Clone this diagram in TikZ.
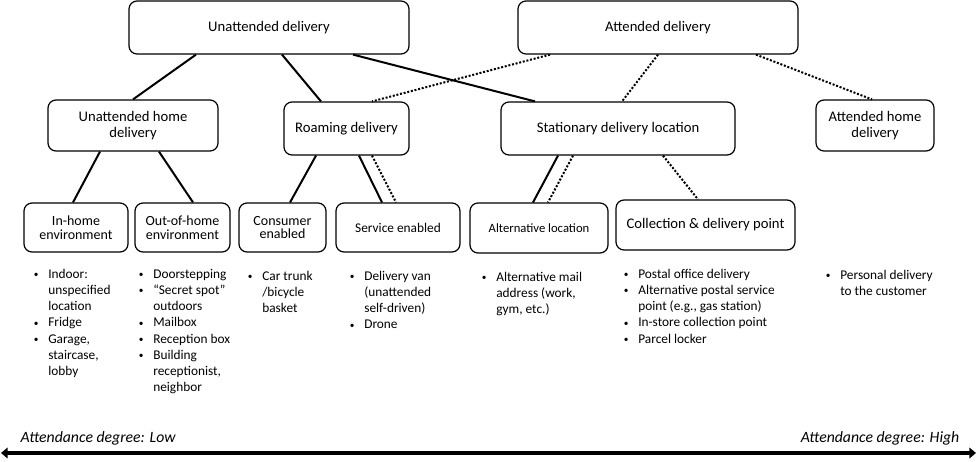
\documentclass[tikz,border=0pt]{standalone}
\usepackage{fontspec}
\setmainfont{Carlito}
\usetikzlibrary{calc,arrows.meta}

\begin{document}
\begin{tikzpicture}[x=0.75pt, y=-0.75pt, line join=round,
  box/.style={draw, line width=0.9pt, rounded corners=6pt, align=center, inner sep=2pt,
    font=\fontsize{11}{11.5}\selectfont},
  smallbox/.style={box, font=\fontsize{10.5}{10.2}\selectfont},
  solidlink/.style={line width=1.5pt},
  dotlink/.style={line width=1.5pt, dash pattern=on 1.5pt off 1.3pt},
  itemlist/.style={anchor=base west, inner sep=0pt, font=\fontsize{10}{12.2}\selectfont},
  axis/.style={line width=3.5pt, {Triangle[width=8pt,length=5pt]}-{Triangle[width=8pt,length=5pt]}},
  axislabel/.style={font=\fontsize{11.8}{12}\selectfont\itshape}]

% ---------- helpers ----------
\newcommand{\bl}{\raisebox{0.12ex}{\scalebox{0.7}{\textbullet}}}
% droplist: name, x, y, rows
\newcommand{\droplist}[4]{%
  \node[itemlist] (#1) at (#2,#3) {\begin{tabular}[t]{@{}p{10.9pt}@{}l@{}}#4\end{tabular}};%
}

\useasboundingbox (0,0) rectangle (977,461);

% ---------- top level ----------
\node[box, minimum width=210pt, minimum height=39.75pt] (unatt) at (269,27.5) {Unattended delivery};
\node[box, minimum width=210pt, minimum height=39.75pt] (att) at (658,27.5) {Attended delivery};

% ---------- second level ----------
\node[box, minimum width=127.5pt, minimum height=38.25pt] (unhome) at (133,125.5) {Unattended home\\delivery};
\node[box, minimum width=93.75pt, minimum height=39.75pt] (roam) at (346.5,128.5) {Roaming delivery};
\node[box, minimum width=175.5pt, minimum height=39.75pt] (station) at (618,128.5) {Stationary delivery location};
\node[box, minimum width=88.5pt, minimum height=38.25pt] (athome) at (875,125.5) {Attended home\\delivery};

% ---------- third level ----------
\node[smallbox, minimum width=78pt, minimum height=36.75pt] (inhome) at (76,227.5) {In-home\\environment};
\node[smallbox, minimum width=71.25pt, minimum height=36.75pt] (outhome) at (182.5,227.5) {Out-of-home\\environment};
\node[smallbox, minimum width=65.25pt, minimum height=36.75pt] (consumer) at (282.5,227.5) {Consumer\\enabled};
\node[smallbox, minimum width=93pt, minimum height=36.75pt, font=\fontsize{10}{10}\selectfont] (service) at (398,227.5) {Service enabled};
\node[smallbox, minimum width=103.5pt, minimum height=37.5pt, font=\fontsize{9.5}{10}\selectfont] (altloc) at (539,228) {Alternative location};
\node[box, minimum width=134.25pt, minimum height=37.5pt] (cdp) at (705.5,225) {Collection \& delivery point};

% ---------- connectors ----------
\draw[solidlink] ($(unatt.south)+(-73,0)$) -- (unhome.north);
\draw[solidlink] ($(unatt.south)+(13,0)$) -- ($(roam.north)+(-25.5,0)$);
\draw[solidlink] ($(unatt.south)+(84,0)$) -- ($(station.north)+(-83,0)$);
\draw[dotlink] ($(att.south)+(-108,0)$) -- ($(roam.north)+(25.5,0)$);
\draw[dotlink] (att.south) -- ($(station.north)+(4,0)$);
\draw[dotlink] ($(att.south)+(98,0)$) -- ($(athome.north)+(-3,0)$);

\draw[solidlink] ($(unhome.south)+(-33,0)$) -- ($(inhome.north)+(-3,0)$);
\draw[solidlink] ($(unhome.south)+(26,0)$) -- ($(outhome.north)+(10.5,0)$);
\draw[solidlink] ($(roam.south)+(-30.5,0)$) -- ($(consumer.north)+(7.5,0)$);
\draw[solidlink] ($(roam.south)+(12.5,0)$) -- ($(service.north)+(-16,0)$);
\draw[dotlink] ($(roam.south)+(25.5,0)$) -- ($(service.north)+(-2,0)$);
\draw[solidlink] ($(station.south)+(-60,0)$) -- ($(altloc.north)+(-6,0)$);
\draw[dotlink] ($(station.south)+(-45,0)$) -- ($(altloc.north)+(9,0)$);
\draw[dotlink] ($(station.south)+(45,0)$) -- ($(cdp.north)+(-7.5,0)$);

% ---------- lists ----------
\droplist{inhomeL}{33.5}{278}{\bl & Indoor:\\ & unspecified\\ & location\\ \bl & Fridge\\ \bl & Garage,\\ & staircase,\\ & lobby}
\droplist{outhomeL}{138.5}{278}{\bl & Doorstepping\\ \bl & “Secret spot”\\ & outdoors\\ \bl & Mailbox\\ \bl & Reception box\\ \bl & Building\\ & receptionist,\\ & neighbor}
\droplist{consumerL}{247.5}{280}{\bl & Car trunk\\ & /bicycle\\ & basket}
\droplist{serviceL}{349.5}{280}{\bl & Delivery van\\ & (unattended\\ & self-driven)\\ \bl & Drone}
\droplist{altlocL}{481.5}{281}{\bl & Alternative mail\\ & address (work,\\ & gym, etc.)}
\droplist{cdpL}{623.5}{278}{\bl & Postal office delivery\\ \bl & Alternative postal service\\ & point (e.g., gas station)\\ \bl & In-store collection point\\ \bl & Parcel locker}
\droplist{athomeL}{825.5}{279}{\bl & Personal delivery\\ & to the customer}

% ---------- attendance axis ----------
\coordinate (lowend) at (1,453);
\coordinate (highend) at (976,453);
\draw[axis] (lowend) -- (highend);
\node[axislabel, anchor=west] (lowlbl) at (16,438) {Attendance degree: Low};
\node[axislabel, anchor=east] (highlbl) at (964,438) {Attendance degree: High};

\end{tikzpicture}
\end{document}
